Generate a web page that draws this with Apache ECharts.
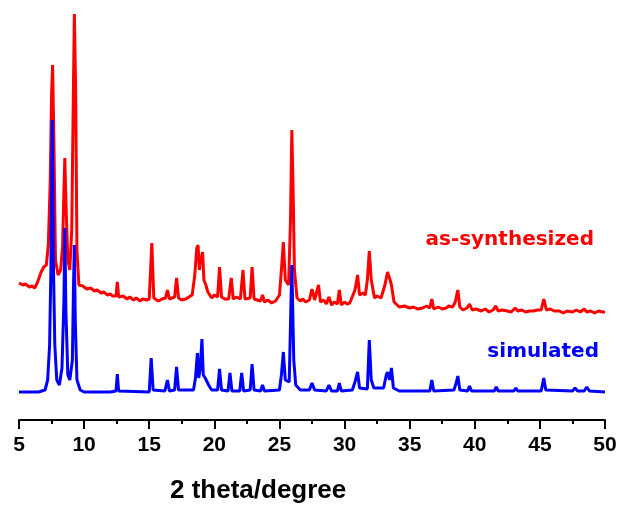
<!DOCTYPE html>
<html>
<head>
<meta charset="utf-8">
<title>XRD</title>
<script src="https://cdn.jsdelivr.net/npm/echarts@6/dist/echarts.min.js"></script>
<style>
  html, body { margin: 0; padding: 0; background: #fff; }
  #main { width: 623px; height: 510px; }
</style>
</head>
<body>
<div id="main"></div>
<script>
'use strict';

// simulated pattern (2 theta, intensity a.u.)
var simTheta = [5.0, 6.5, 7.0, 7.2, 7.35, 7.45, 7.55, 7.65, 7.75, 7.9, 8.1, 8.3, 8.45, 8.52, 8.6, 8.75, 8.9, 9.1, 9.18, 9.25, 9.32, 9.45, 9.7, 10.0,
  12.0, 12.45, 12.55, 12.65, 15.0, 15.15, 15.3, 16.2, 16.4, 16.55, 16.95, 17.1, 17.25,
  18.4, 18.55, 18.7, 18.8, 18.9, 19.05, 19.15, 19.3, 19.45, 19.6, 19.8, 20.25, 20.4, 20.55,
  21.05, 21.2, 21.35, 21.95, 22.1, 22.25, 22.75, 22.9, 23.05, 23.55, 23.7, 23.85,
  25.0, 25.15, 25.3, 25.45, 25.75, 25.95, 26.1, 26.25, 26.6, 27.3, 27.5, 27.7, 28.6, 28.8, 29.0,
  29.45, 29.6, 29.75, 30.6, 30.8, 31.0, 31.15, 31.75, 31.9, 32.05, 32.25, 33.0, 33.2, 33.3, 33.45, 33.6, 33.75, 34.2,
  36.55, 36.7, 36.85, 38.4, 38.55, 38.7, 38.85, 39.45, 39.6, 39.75, 41.5, 41.65, 41.8, 43.0, 43.15, 43.3,
  45.1, 45.3, 45.45, 47.5, 47.7, 47.9, 48.4, 48.6, 48.8, 50.0];
var simInt = [28, 28, 30, 40, 75, 150, 300, 150, 75, 40, 35, 52, 120, 192, 110, 45, 40, 60, 130, 175, 100, 40, 30, 28,
  28, 29, 46, 29, 28, 62, 30, 29, 40, 29, 30, 53, 30,
  30, 42, 67, 42, 50, 81, 45, 42, 38, 34, 30, 30, 51, 30,
  29, 47, 29, 29, 47, 29, 30, 56, 30, 29, 35, 29,
  30, 45, 68, 40, 38, 155, 60, 35, 30, 30, 37, 30, 29, 35, 29,
  29, 37, 29, 30, 38, 48, 32, 31, 80, 40, 32, 32, 45, 48, 40, 52, 32, 29,
  29, 40, 29, 30, 36, 44, 30, 29, 34, 29, 29, 33, 29, 29, 32, 29,
  29, 42, 30, 29, 32, 29, 29, 33, 29, 28];

// as-synthesized pattern (2 theta, intensity a.u.)
var synTheta = [5.0, 5.3, 5.5, 5.8, 6.0, 6.2, 6.4, 6.7, 6.9, 7.1, 7.25, 7.4, 7.5, 7.58, 7.68, 7.8, 8.0, 8.2, 8.35, 8.45, 8.52, 8.6, 8.75, 8.9,
  9.05, 9.15, 9.25, 9.35, 9.45, 9.6, 9.9, 10.2, 10.5, 10.8, 11.0, 11.3, 11.5, 11.8, 12.0, 12.2, 12.45, 12.55, 12.65, 13.0, 13.3, 13.5, 13.8, 14.0, 14.3, 14.5, 14.8,
  15.0, 15.2, 15.35, 15.7, 16.0, 16.25, 16.4, 16.55, 16.95, 17.1, 17.25, 17.5, 17.8, 18.3, 18.5, 18.65, 18.75, 18.85, 18.95, 19.1,
  19.2, 19.35, 19.5, 19.8, 20.0, 20.25, 20.4, 20.55, 20.8, 21.1, 21.3, 21.45, 21.7, 22.0, 22.2, 22.35, 22.75, 22.9, 23.05, 23.3, 23.55, 23.7, 23.85,
  24.1, 24.4, 24.7, 25.0, 25.15, 25.3, 25.45, 25.7, 25.85, 25.95, 26.05, 26.15, 26.35, 26.6, 26.8, 27.0, 27.3, 27.5, 27.7, 27.85, 28.0, 28.15,
  28.4, 28.6, 28.8, 29.0, 29.2, 29.45, 29.6, 29.75, 30.0, 30.2, 30.4, 30.8, 31.0, 31.15, 31.4, 31.6, 31.75, 31.9, 32.05, 32.3, 32.5, 32.8, 33.1, 33.3, 33.5,
  33.6, 33.8, 34.2, 34.6, 35.0, 35.3, 35.6, 36.0, 36.3, 36.55, 36.7, 36.85, 37.2, 37.5, 37.8, 38.0, 38.3, 38.5, 38.7, 38.85, 39.1, 39.4, 39.6, 39.8, 40.1, 40.5, 40.8, 41.1, 41.4, 41.6,
  41.8, 42.1, 42.5, 42.8, 43.1, 43.3, 43.6, 43.9, 44.2, 44.5, 44.8, 45.1, 45.3, 45.5, 45.8, 46.1, 46.5, 46.8, 47.1, 47.5, 47.8, 48.1, 48.4, 48.6, 48.9, 49.2, 49.5, 49.8, 50.0];
var synInt = [137, 135, 136, 133, 134, 132, 137, 148, 153, 155, 175, 240, 325, 355, 280, 160, 145, 150, 175, 230, 262, 220, 160, 150,
  190, 300, 406, 330, 170, 135, 134, 131, 132, 129, 130, 127, 128, 125, 126, 124, 124, 138, 123, 124, 121, 123, 120, 122, 119, 121, 120,
  121, 177, 122, 119, 121, 122, 130, 121, 123, 142, 122, 120, 121, 125, 145, 172, 175, 150, 160, 168,
  140, 135, 128, 122, 125, 123, 153, 123, 121, 121, 142, 121, 123, 121, 150, 121, 122, 153, 121, 120, 119, 125, 118,
  120, 117, 119, 125, 150, 178, 140, 135, 200, 290, 230, 150, 122, 119, 121, 118, 120, 131, 120, 122, 135, 118,
  120, 116, 123, 115, 118, 116, 130, 115, 118, 116, 117, 130, 145, 125, 127, 125, 140, 169, 140, 122, 124, 122, 135, 148, 140,
  135, 118, 113, 114, 112, 113, 111, 112, 114, 112, 121, 111, 113, 111, 112, 114, 113, 118, 130, 113, 110, 112, 116, 110, 111, 109, 111, 108, 110, 114,
  109, 110, 109, 108, 112, 109, 110, 108, 109, 109, 110, 110, 121, 110, 111, 109, 109, 107, 109, 108, 110, 108, 111, 108, 109, 107, 109, 108, 108];

var xTicks = [5, 10, 15, 20, 25, 30, 35, 40, 45, 50];

function pairs(xs, ys) {
    var out = [];
    for (var i = 0; i < xs.length; i++) {
        out.push([xs[i], ys[i]]);
    }
    return out;
}

var myChart = echarts.init(document.getElementById('main'));
var option = {
    backgroundColor: '#ffffff',
    animation: false,
    grid: {
        left: 19,
        right: 18,
        top: 0,
        bottom: 90,
        outerBoundsMode: 'none'
    },
    xAxis: {
        type: 'value',
        min: xTicks[0],
        max: xTicks[xTicks.length - 1],
        interval: 5,
        axisLine: { lineStyle: { color: '#000', width: 2 } },
        axisTick: { inside: false, length: 9, lineStyle: { color: '#000', width: 2 } },
        minorTick: { show: true, splitNumber: 2, length: 4, lineStyle: { color: '#000', width: 2 } },
        splitLine: { show: false },
        axisLabel: {
            color: '#000',
            fontFamily: 'Liberation Sans, Arial, sans-serif',
            fontWeight: 'bold',
            fontSize: 21,
            margin: 15
        }
    },
    yAxis: {
        type: 'value',
        show: false,
        min: 0,
        max: 420
    },
    graphic: [
        {
            type: 'text',
            left: 170,
            top: 478,
            style: {
                text: '2 theta/degree',
                fill: '#000',
                font: 'bold 26px "Liberation Sans", Arial'
            }
        },
        {
            type: 'text',
            x: 594,
            y: 240,
            style: {
                text: 'as-synthesized',
                fill: '#ff0000',
                font: 'bold 20px "DejaVu Sans"',
                align: 'right',
                verticalAlign: 'middle'
            }
        },
        {
            type: 'text',
            x: 599,
            y: 352,
            style: {
                text: 'simulated',
                fill: '#0000ff',
                font: 'bold 20px "DejaVu Sans"',
                align: 'right',
                verticalAlign: 'middle'
            }
        }
    ],
    series: [
        {
            name: 'as-synthesized',
            type: 'line',
            showSymbol: false,
            lineStyle: { color: '#ff0000', width: 3 },
            data: pairs(synTheta, synInt)
        },
        {
            name: 'simulated',
            type: 'line',
            showSymbol: false,
            lineStyle: { color: '#0000ff', width: 3 },
            data: pairs(simTheta, simInt)
        }
    ]
};
myChart.setOption(option);
</script>
</body>
</html>
